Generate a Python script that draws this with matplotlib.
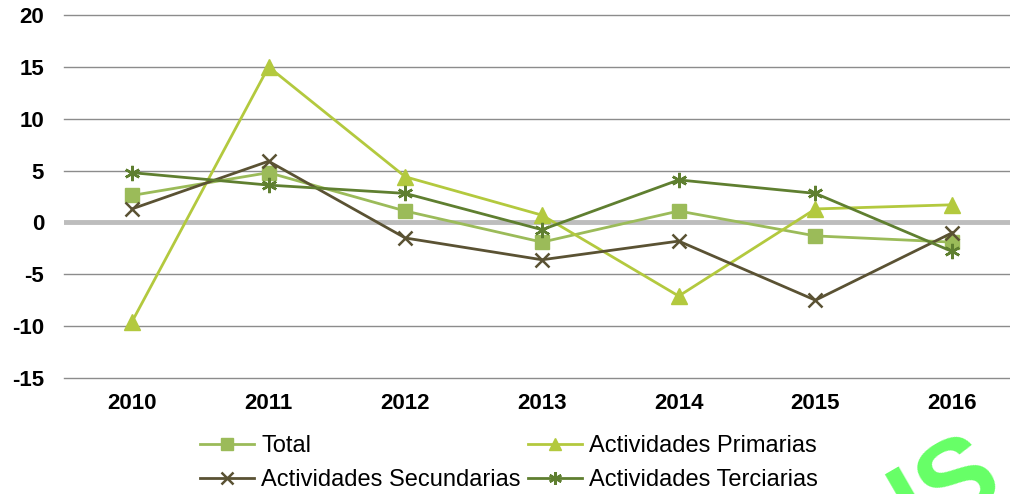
import matplotlib
matplotlib.use("Agg")
import matplotlib.pyplot as plt

plt.rcParams['font.family'] = ['Liberation Sans', 'DejaVu Sans']

years = ["2010", "2011", "2012", "2013", "2014", "2015", "2016"]
total = [2.6, 4.8, 1.1, -1.9, 1.1, -1.3, -1.9]
primarias = [-9.6, 15.0, 4.4, 0.7, -7.1, 1.3, 1.7]
secundarias = [1.3, 5.9, -1.5, -3.6, -1.8, -7.5, -1.0]
terciarias = [4.8, 3.6, 2.8, -0.7, 4.1, 2.8, -2.8]
yticks = [-15, -10, -5, 0, 5, 10, 15, 20]

fig = plt.figure(figsize=(10.1, 4.94), dpi=100)
W, H = 1010, 494
ax = fig.add_axes([63.5 / W, (H - 378) / H, (1020.5 - 63.5) / W, (378 - 15) / H])
ax.set_ylim(-15, 20)
ax.set_xlim(-0.5, 6.5)

for yv in yticks:
    if yv == 0:
        ax.axhline(0, color='#BDBDBD', lw=3.5, zorder=1)
    else:
        ax.axhline(yv, color='#8C8C8C', lw=1.0, zorder=1, clip_on=False)

x = list(range(len(years)))
h1, = ax.plot(x, total, color='#9BBB59', lw=2.0, marker='s', ms=10, label='Total', zorder=3)
h2, = ax.plot(x, primarias, color='#B3C93E', lw=2.0, marker='^', ms=11, label='Actividades Primarias', zorder=3)
h3, = ax.plot(x, secundarias, color='#5A5233', lw=2.0, marker='x', ms=10, mew=1.8, label='Actividades Secundarias', zorder=3)
h4, = ax.plot(x, terciarias, color='#5F7F30', lw=2.0, marker=(6, 2, 0), ms=11, mew=1.8, label='Actividades Terciarias', zorder=3)

for s in ax.spines.values():
    s.set_visible(False)
ax.set_xticks(x)
ax.set_xticklabels(years, fontsize=16, fontweight='bold')
ax.set_yticks(yticks)
ax.set_yticklabels([str(v) for v in yticks], fontsize=16, fontweight='bold')
ax.tick_params(axis='both', length=0)
ax.tick_params(axis='y', pad=14)
ax.tick_params(axis='x', pad=11)

handles = [h1, h3, h2, h4]
fig.legend(handles, [h.get_label() for h in handles],
           loc='upper left', bbox_to_anchor=(200 / W, 1 - 435 / H), ncol=2, frameon=False,
           fontsize=17, handlelength=2.3, handletextpad=0.3, columnspacing=0.28,
           labelspacing=0.52, borderpad=0, borderaxespad=0, markerscale=0.85)

fig.text(0.938, -0.135, "IS", fontsize=80, fontweight='bold', color='#66FF66',
         rotation=30, ha='center', va='bottom', zorder=10)

fig.savefig("out.png", dpi=100)
